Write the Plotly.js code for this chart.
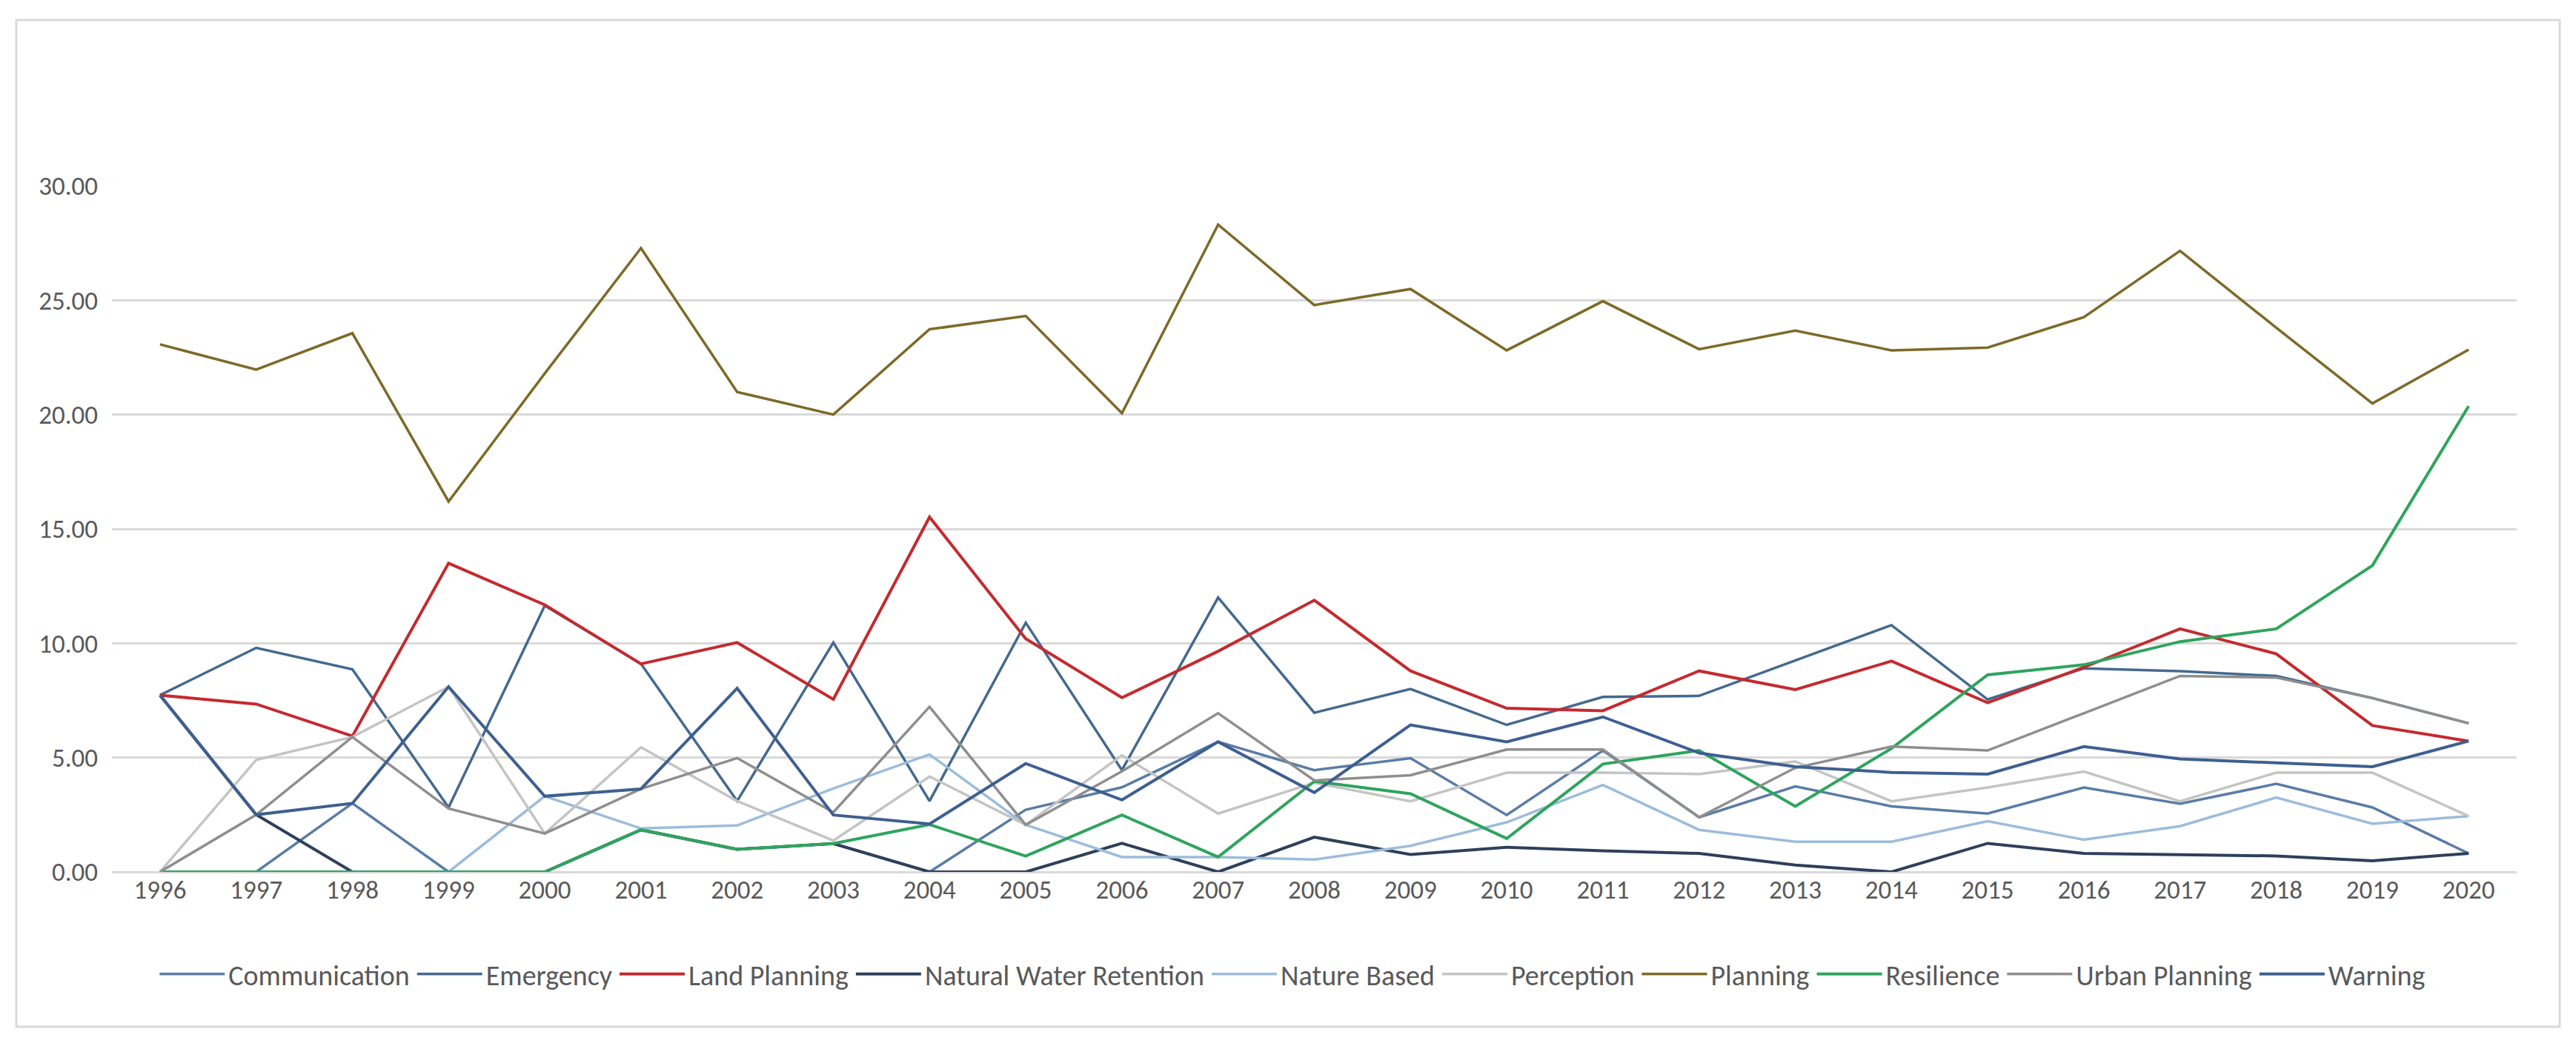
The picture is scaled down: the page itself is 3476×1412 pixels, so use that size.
<!DOCTYPE html>
<html>
<head>
<meta charset="utf-8">
<script src="https://cdn.plot.ly/plotly-3.0.1.min.js"></script>
<style>
  html, body { margin: 0; padding: 0; background: #ffffff; }
  #chart { width: 3476px; height: 1412px; }
</style>
</head>
<body>
<div id="chart"></div>
<script>
const years = ['1996','1997','1998','1999','2000','2001','2002','2003','2004','2005','2006','2007','2008','2009','2010','2011','2012','2013','2014','2015','2016','2017','2018','2019','2020'];

const seriesNames = ['Communication','Emergency','Land Planning','Natural Water Retention','Nature Based','Perception','Planning','Resilience','Urban Planning','Warning'];

const communication = [0, 0, 3.0, 0, 0, 1.84, 0.99, 1.24, 0, 2.72, 3.7, 5.69, 4.45, 4.97, 2.49, 5.31, 2.39, 3.74, 2.87, 2.55, 3.69, 2.98, 3.85, 2.82, 0.81];
const emergency = [7.73, 9.8, 8.86, 2.82, 11.65, 9.1, 3.1, 10.03, 3.1, 10.9, 4.45, 12.0, 6.96, 8.0, 6.43, 7.65, 7.7, 9.25, 10.79, 7.54, 8.9, 8.78, 8.57, 7.6, 6.5];
const landPlanning = [7.73, 7.34, 5.94, 13.5, 11.68, 9.1, 10.03, 7.55, 15.52, 10.2, 7.62, 9.65, 11.88, 8.79, 7.16, 7.05, 8.79, 7.97, 9.22, 7.4, 8.95, 10.63, 9.54, 6.4, 5.72];
const naturalWaterRetention = [7.73, 2.5, 0, 0, 0, 1.84, 0.99, 1.24, 0, 0, 1.25, 0, 1.52, 0.76, 1.08, 0.92, 0.81, 0.3, 0, 1.25, 0.81, 0.75, 0.7, 0.49, 0.81];
const natureBased = [0, 0, 0, 0, 3.31, 1.9, 2.03, 3.65, 5.14, 2.06, 0.65, 0.65, 0.54, 1.14, 2.17, 3.8, 1.84, 1.32, 1.32, 2.22, 1.41, 2.0, 3.25, 2.11, 2.44];
const perception = [0, 4.9, 5.9, 8.1, 1.68, 5.45, 3.1, 1.37, 4.17, 2.06, 5.1, 2.55, 3.9, 3.09, 4.34, 4.34, 4.28, 4.83, 3.09, 3.69, 4.39, 3.09, 4.34, 4.34, 2.44];
const planning = [23.07, 21.97, 23.56, 16.2, 21.8, 27.28, 20.99, 20.0, 23.73, 24.31, 20.06, 28.31, 24.79, 25.49, 22.81, 24.96, 22.86, 23.67, 22.81, 22.93, 24.26, 27.16, 23.8, 20.49, 22.84];
const resilience = [0, 0, 0, 0, 0, 1.84, 0.99, 1.24, 2.07, 0.69, 2.49, 0.65, 3.96, 3.42, 1.46, 4.72, 5.31, 2.87, 5.4, 8.62, 9.06, 10.07, 10.63, 13.4, 20.37];
const urbanPlanning = [0, 2.5, 5.9, 2.77, 1.68, 3.63, 4.98, 2.61, 7.22, 2.06, 4.4, 6.94, 4.0, 4.23, 5.35, 5.35, 2.39, 4.55, 5.48, 5.31, 6.94, 8.57, 8.5, 7.6, 6.5];
const warning = [7.73, 2.5, 3.0, 8.1, 3.31, 3.63, 8.03, 2.49, 2.1, 4.74, 3.15, 5.69, 3.47, 6.43, 5.69, 6.78, 5.2, 4.6, 4.35, 4.28, 5.48, 4.94, 4.77, 4.6, 5.72];

const values = [communication, emergency, landPlanning, naturalWaterRetention, natureBased, perception, planning, resilience, urbanPlanning, warning];
const colors = ['#5a7ca6', '#44698e', '#c42a2f', '#2f3f5b', '#9cbcdb', '#c4c4c4', '#7d6a28', '#2fa45d', '#8e8e8e', '#3e5f90'];
const widths = [3.5, 3.5, 4, 4, 3.5, 3.5, 3.5, 4, 3.5, 4];

const traces = seriesNames.map((name, i) => ({
  type: 'scatter',
  mode: 'lines',
  name: name,
  x: years,
  y: values[i],
  line: { color: colors[i], width: widths[i] },
  hoverinfo: 'x+y+name'
}));

const fontFamily = 'Carlito, Calibri, Lato, sans-serif';

const layout = {
  width: 3476,
  height: 1412,
  autosize: false,
  paper_bgcolor: '#ffffff',
  plot_bgcolor: '#ffffff',
  margin: { l: 151, r: 80, t: 251, b: 235, pad: 0 },
  font: { family: fontFamily, color: '#595959', size: 35 },
  showlegend: true,
  legend: {
    orientation: 'h',
    x: 0.491,
    xanchor: 'center',
    y: -0.149,
    yanchor: 'middle',
    font: { family: fontFamily, size: 38, color: '#595959' },
    itemwidth: 88,
    traceorder: 'normal',
    bgcolor: 'rgba(0,0,0,0)'
  },
  xaxis: {
    type: 'category',
    range: [-0.5, 24.5],
    showgrid: false,
    zeroline: false,
    showline: false,
    ticks: '',
    tickfont: { family: fontFamily, size: 35, color: '#595959' },
    fixedrange: true
  },
  yaxis: {
    range: [0, 30],
    dtick: 5,
    tick0: 0,
    tickformat: '.2f',
    showgrid: true,
    gridcolor: '#d9d9d9',
    gridwidth: 3,
    zeroline: true,
    zerolinecolor: '#d9d9d9',
    zerolinewidth: 3,
    showline: false,
    ticks: '',
    ticklabelstandoff: 18,
    tickfont: { family: fontFamily, size: 35, color: '#595959' },
    fixedrange: true
  },
  shapes: [{
    type: 'rect',
    xref: 'paper', yref: 'paper',
    x0: (22 - 151) / 3245, x1: (3454 - 151) / 3245,
    y0: (1177 - 1386) / 926, y1: (1177 - 27) / 926,
    line: { color: '#d9d9d9', width: 3 },
    fillcolor: 'rgba(0,0,0,0)',
    layer: 'below'
  }]
};

Plotly.newPlot('chart', traces, layout, { displayModeBar: false, staticPlot: true });
</script>
</body>
</html>
